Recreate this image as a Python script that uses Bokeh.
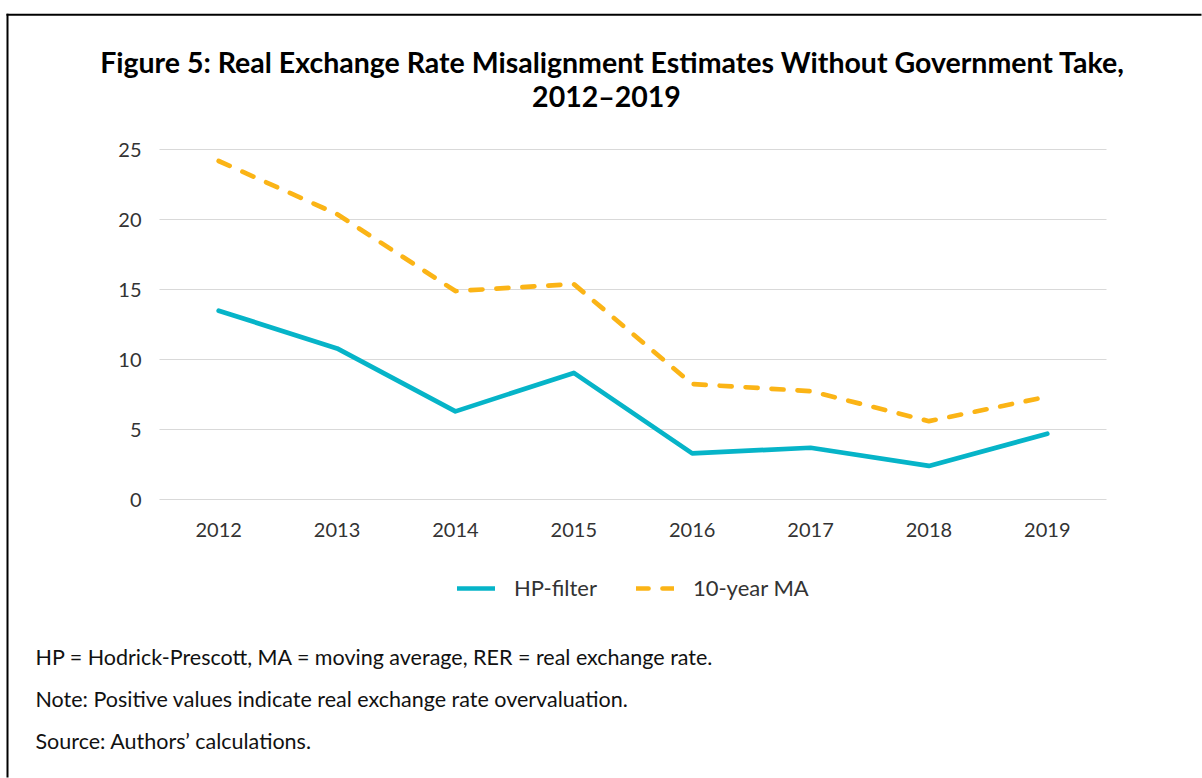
from bokeh.plotting import figure
from bokeh.models import Range1d, Label, Legend, LegendItem, BoxAnnotation, FixedTicker
from bokeh.embed import file_html
from bokeh.resources import INLINE

# ---- data ----
years = ["2012", "2013", "2014", "2015", "2016", "2017", "2018", "2019"]
hp_filter = [13.5, 10.8, 6.3, 9.05, 3.3, 3.7, 2.4, 4.7]
ma_10yr = [24.2, 20.4, 14.9, 15.4, 8.25, 7.75, 5.6, 7.35]
y_ticks = [0, 5, 10, 15, 20, 25]
series_names = ["HP-filter", "10-year MA"]
title_lines = ["Figure 5: Real Exchange Rate Misalignment Estimates Without Government Take,",
               "2012\u20132019"]
notes = ["HP = Hodrick-Prescott, MA = moving average, RER = real exchange rate.",
         "Note: Positive values indicate real exchange rate overvaluation.",
         "Source: Authors\u2019 calculations."]

TEAL = "#06B4C8"
ORANGE = "#FBB416"
FONT = "Lato"
TXT = "#333333"

W, H = 1202, 778
# layout anchors (pixels on the page)
PX_LEFT, PX_RIGHT = 159.0, 1106.0      # plot area left / right
PY_ZERO, PY_TOP = 499.0, 149.3         # y=0 and y=25 rows
xs = [int(y) for y in years]
n = len(xs)
px_per_x = (PX_RIGHT - PX_LEFT) / n
x_first = PX_LEFT + px_per_x / 2
px_per_y = (PY_ZERO - PY_TOP) / y_ticks[-1]

x0 = xs[0] - x_first / px_per_x
x1 = xs[0] + (W - x_first) / px_per_x
y1 = y_ticks[-1] + PY_TOP / px_per_y
y0 = -(H - PY_ZERO) / px_per_y

p = figure(width=W, height=H, x_range=Range1d(x0, x1), y_range=Range1d(y0, y1),
           output_backend="svg", toolbar_location=None,
           min_border=0, min_border_left=0, min_border_right=0,
           min_border_top=0, min_border_bottom=0)
p.outline_line_color = None
p.background_fill_color = "white"
p.border_fill_color = "white"

p.xgrid.grid_line_color = None
p.ygrid.grid_line_color = "#d9d9d9"
p.ygrid.grid_line_width = 1.2
p.ygrid.cross_bounds = (xs[0] - 0.5, xs[-1] + 0.5)
p.yaxis.ticker = FixedTicker(ticks=y_ticks)
p.xaxis.ticker = FixedTicker(ticks=xs)
p.xaxis.major_label_overrides = {x: y for x, y in zip(xs, years)}

for ax in (p.xaxis[0], p.yaxis[0]):
    ax.axis_line_color = None
    ax.major_tick_line_color = None
    ax.minor_tick_line_color = None
    ax.major_label_text_font = FONT
    ax.major_label_text_font_size = "20px"
    ax.major_label_text_color = TXT
p.yaxis.fixed_location = xs[0] - 0.5
p.xaxis.fixed_location = 0
p.yaxis.major_label_standoff = 12
p.xaxis.major_label_standoff = 17

r1 = p.line(xs, hp_filter, line_color=TEAL, line_width=4.7, line_join="round", line_cap="round")
r2 = p.line(xs, ma_10yr, line_color=ORANGE, line_width=4.7, line_dash="12 14",
            line_join="round", line_cap="round")

legend = Legend(items=[LegendItem(label=series_names[0], renderers=[r1]),
                       LegendItem(label=series_names[1], renderers=[r2])],
                orientation="horizontal", location=(457, H - 601),
                glyph_width=38, glyph_height=26, label_height=26, label_standoff=19, spacing=39,
                padding=0, margin=0, border_line_color=None, background_fill_alpha=0,
                label_text_font=FONT, label_text_font_size="22px", label_text_color=TXT)
p.add_layout(legend)

# title (two centred lines)
TFS = 28.5
title_centres = [612, 606]
for i, t in enumerate(title_lines):
    base = 72 + 34 * i
    p.add_layout(Label(x=title_centres[i], y=H - (base - 0.37 * TFS), x_units="screen", y_units="screen",
                       text=t, text_font=FONT, text_font_style="bold", text_font_size=f"{TFS}px",
                       text_color="#000000", text_align="center", text_baseline="middle"))

# notes
NFS = 21.5
for i, t in enumerate(notes):
    base = 664 + 42 * i
    p.add_layout(Label(x=35, y=H - (base - 0.37 * NFS), x_units="screen", y_units="screen",
                       text=t, text_font=FONT, text_font_size=f"{NFS}px", text_color="#111111",
                       text_align="left", text_baseline="middle"))

# outer frame border: left and top edges (thin filled strips kept inside the canvas)
p.add_layout(BoxAnnotation(left=6, right=8, top=H - 13.3, bottom=1,
                           left_units="screen", right_units="screen",
                           top_units="screen", bottom_units="screen",
                           fill_color="black", fill_alpha=1, line_color=None, line_alpha=0))
p.add_layout(BoxAnnotation(left=6, right=W - 1, top=H - 13.3, bottom=H - 15.3,
                           left_units="screen", right_units="screen",
                           top_units="screen", bottom_units="screen",
                           fill_color="black", fill_alpha=1, line_color=None, line_alpha=0))

open("out.html", "w").write(file_html(p, INLINE))
